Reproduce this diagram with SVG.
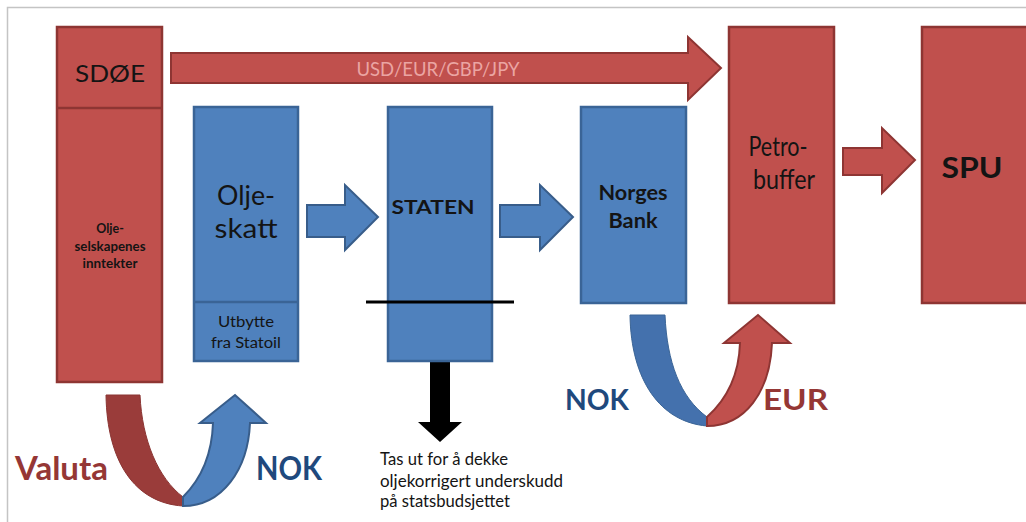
<svg xmlns="http://www.w3.org/2000/svg" width="1026" height="522" viewBox="0 0 1026 522">
<style>
.red{fill:#C0504D;stroke:#8E3533;stroke-width:2.5}
.blue{fill:#4F81BD;stroke:#3A6496;stroke-width:2.5}
.arrR{fill:#C0504D;stroke:#8E3533;stroke-width:2}
.arrB{fill:#4F81BD;stroke:#385D8A;stroke-width:2}
.t{font-family:Lato,"Liberation Sans",Arial,sans-serif;fill:#141414;text-anchor:middle}
.b{font-weight:bold}
.lbl{font-family:Lato,"Liberation Sans",Arial,sans-serif;font-weight:bold}
.note{font-family:Lato,"Liberation Sans",Arial,sans-serif;font-size:17px;fill:#141414}
</style>
<rect x="0" y="0" width="1026" height="522" fill="#ffffff"/>
<path d="M7.5,522 L7.5,7.5 L1026,7.5" fill="none" stroke="#c4c4c4" stroke-width="1.5"/>

<g id="connectors">
  <path id="arrow-usd" class="arrR" d="M171,53 L688,53 L688,37 L721,68 L688,100 L688,83 L171,83 Z"/>
  <text class="t" x="438" y="76" font-size="18.5" textLength="163" lengthAdjust="spacingAndGlyphs" style="fill:#EBA5A3">USD/EUR/GBP/JPY</text>
  <path id="arrow-olje-staten" class="arrB" d="M307,205 L345,205 L345,185 L378,217 L345,250 L345,237 L307,237 Z"/>
  <path id="arrow-staten-norges" class="arrB" d="M500,205 L540,205 L540,185 L573,217 L540,250 L540,237 L500,237 Z"/>
  <path id="arrow-petro-spu" class="arrR" d="M843,148 L882,148 L882,128 L915,160 L882,193 L882,175 L843,175 Z"/>
  <path id="arrow-down" fill="#000" d="M430,357 L450,357 L450,422 L462,422 L440,442 L418,422 L430,422 Z"/>
  <g id="u-left">
    <path fill="#9A3C3A" stroke="#8A3432" stroke-width="1" d="M106,395 L140,395 C142,440 158,478 183,497 L183,506 C135,503 107,462 106,395 Z"/>
    <path class="arrB" d="M183,497 C200,480 212,455 213,423 L200,423 L235,395 L266,423 L250,423 C248,470 222,506 183,506 Z"/>
  </g>
  <g id="u-right">
    <path fill="#4471AD" stroke="#3A6496" stroke-width="1" d="M630,315 L665,315 C667,362 680,397 707,417 L707,426 C660,422 631,380 630,315 Z"/>
    <path class="arrR" d="M707,417 C726,400 739,375 740,343 L724,343 L758,315 L790,343 L772,343 C770,392 745,426 707,426 Z"/>
  </g>
</g>

<g id="sdoe">
  <rect class="red" x="57" y="27" width="105" height="355"/>
  <line x1="57" y1="108" x2="162" y2="108" stroke="#8E3533" stroke-width="2.5"/>
  <text class="t" x="110" y="82" font-size="24" textLength="70" lengthAdjust="spacingAndGlyphs">SDØE</text>
  <text class="t b" x="110" y="233" font-size="12.5">Olje-</text>
  <text class="t b" x="110" y="251" font-size="12.5" textLength="71" lengthAdjust="spacingAndGlyphs">selskapenes</text>
  <text class="t b" x="110" y="268" font-size="12.5" textLength="55" lengthAdjust="spacingAndGlyphs">inntekter</text>
</g>

<g id="oljeskatt">
  <rect class="blue" x="194" y="107" width="104" height="254"/>
  <line x1="194" y1="302" x2="298" y2="302" stroke="#3A6496" stroke-width="2.5"/>
  <text class="t" x="246" y="205" font-size="27" textLength="58" lengthAdjust="spacingAndGlyphs">Olje-</text>
  <text class="t" x="246" y="238" font-size="27" textLength="63" lengthAdjust="spacingAndGlyphs">skatt</text>
  <text class="t" x="246" y="327" font-size="15.5" textLength="56" lengthAdjust="spacingAndGlyphs">Utbytte</text>
  <text class="t" x="246" y="348" font-size="15.5" textLength="70" lengthAdjust="spacingAndGlyphs">fra Statoil</text>
</g>

<g id="staten">
  <rect class="blue" x="388" y="107" width="104" height="254"/>
  <text class="t b" x="433" y="214" font-size="19" textLength="83" lengthAdjust="spacingAndGlyphs">STATEN</text>
  <line x1="366" y1="302" x2="514" y2="302" stroke="#000" stroke-width="3"/>
</g>

<g id="norgesbank">
  <rect class="blue" x="581" y="107" width="105" height="196"/>
  <text class="t b" x="633" y="200" font-size="20.5" textLength="69" lengthAdjust="spacingAndGlyphs">Norges</text>
  <text class="t b" x="633" y="228" font-size="20.5" textLength="49" lengthAdjust="spacingAndGlyphs">Bank</text>
</g>

<g id="petrobuffer">
  <rect class="red" x="729" y="27" width="105" height="276"/>
  <text class="t" x="778" y="156" font-size="27" textLength="59" lengthAdjust="spacingAndGlyphs">Petro-</text>
  <text class="t" x="784" y="189" font-size="27" textLength="62" lengthAdjust="spacingAndGlyphs">buffer</text>
</g>

<g id="spu">
  <rect class="red" x="922" y="27" width="110" height="276"/>
  <text class="t b" x="972" y="178" font-size="28" textLength="61" lengthAdjust="spacingAndGlyphs">SPU</text>
</g>

<g id="note">
  <text class="note" x="380" y="465" textLength="128" lengthAdjust="spacingAndGlyphs">Tas ut for å dekke</text>
  <text class="note" x="380" y="487" textLength="183" lengthAdjust="spacingAndGlyphs">oljekorrigert underskudd</text>
  <text class="note" x="380" y="507" textLength="130" lengthAdjust="spacingAndGlyphs">på statsbudsjettet</text>
</g>

<g id="labels">
  <text class="lbl" x="15" y="480" font-size="33" fill="#953735" textLength="93" lengthAdjust="spacingAndGlyphs">Valuta</text>
  <text class="lbl" x="256" y="480" font-size="33" fill="#1F497D" textLength="66" lengthAdjust="spacingAndGlyphs">NOK</text>
  <text class="lbl" x="565" y="410" font-size="29" fill="#1F497D" textLength="64" lengthAdjust="spacingAndGlyphs">NOK</text>
  <text class="lbl" x="763" y="410" font-size="29" fill="#953735" textLength="65" lengthAdjust="spacingAndGlyphs">EUR</text>
</g>
</svg>
